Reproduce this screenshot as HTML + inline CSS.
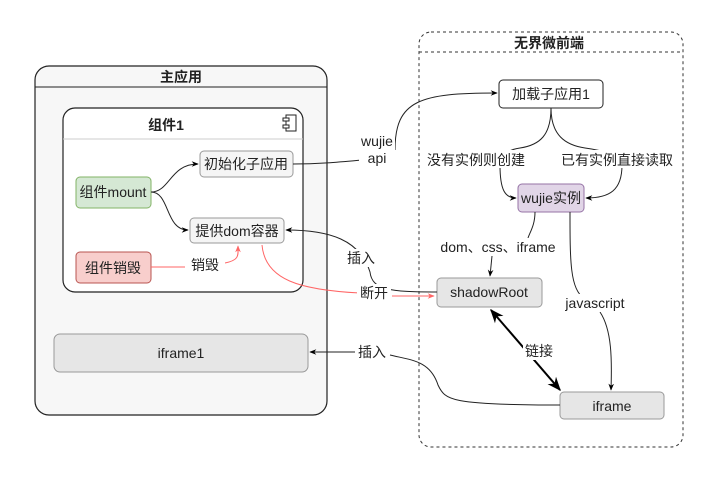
<!DOCTYPE html>
<html><head><meta charset="utf-8"><style>
html,body{margin:0;padding:0;background:#fff;width:720px;height:483px;overflow:hidden}
svg{display:block}
text{font-family:"Liberation Sans","Noto Sans CJK SC",sans-serif;font-size:14px;fill:#222}
.b{font-weight:bold}
</style></head><body>
<svg width="720" height="483" viewBox="0 0 720 483" xmlns="http://www.w3.org/2000/svg">
<defs>
<marker id="a" viewBox="0 0 10 10" refX="9" refY="5" markerWidth="7" markerHeight="7" orient="auto-start-reverse"><path d="M0,1 L10,5 L0,9 L3,5z" fill="#000"/></marker>
<marker id="r" viewBox="0 0 10 10" refX="9" refY="5" markerWidth="7" markerHeight="7" orient="auto"><path d="M0,1 L10,5 L0,9 L3,5z" fill="#f66"/></marker>
</defs>
<rect x="35" y="66" width="292" height="349" rx="14" fill="#f7f7f7" stroke="#222" stroke-width="1.2"/>
<path d="M35 87 H327" stroke="#222"/>
<text x="181" y="82" text-anchor="middle" class="b">主应用</text>
<rect x="63" y="108" width="240" height="184" rx="12" fill="#fff" stroke="#222" stroke-width="1.2"/>
<path d="M63 139 H303" stroke="#ccc"/>
<text x="166" y="130" text-anchor="middle" class="b">组件1</text>
<rect x="286" y="115" width="10" height="16" fill="#fff" stroke="#222"/>
<rect x="283" y="118" width="6" height="3" fill="#fff" stroke="#222"/>
<rect x="283" y="125" width="6" height="3" fill="#fff" stroke="#222"/>
<rect x="200" y="151" width="93" height="26" rx="4" fill="#f5f5f5" stroke="#999"/>
<text x="246" y="169" text-anchor="middle" fill="#333">初始化子应用</text>
<rect x="76" y="177" width="75" height="31" rx="4" fill="#d5e8d4" stroke="#82b366"/>
<text x="113" y="197" text-anchor="middle">组件mount</text>
<rect x="190" y="218" width="94" height="25" rx="4" fill="#f5f5f5" stroke="#999"/>
<text x="237" y="236" text-anchor="middle" fill="#333">提供dom容器</text>
<rect x="76" y="252" width="75" height="31" rx="4" fill="#f8cecc" stroke="#b85450"/>
<text x="113" y="273" text-anchor="middle">组件销毁</text>
<rect x="54" y="334" width="254" height="38" rx="6" fill="#e6e6e6" stroke="#999"/>
<text x="181" y="358" text-anchor="middle" fill="#333">iframe1</text>
<rect x="419" y="32" width="264" height="415" rx="12" fill="none" stroke="#333" stroke-dasharray="3 3"/>
<path d="M419 52 H683" stroke="#333" stroke-dasharray="3 3"/>
<text x="549" y="48" text-anchor="middle" class="b">无界微前端</text>
<rect x="499" y="80" width="104" height="28" rx="4" fill="#fff" stroke="#222"/>
<text x="551" y="99" text-anchor="middle">加载子应用1</text>
<rect x="518" y="184" width="66" height="28" rx="4" fill="#e1d5e7" stroke="#9673a6"/>
<text x="551" y="203" text-anchor="middle">wujie实例</text>
<rect x="437" y="278" width="105" height="29" rx="4" fill="#e6e6e6" stroke="#999"/>
<text x="489" y="297" text-anchor="middle" fill="#333">shadowRoot</text>
<rect x="560" y="392" width="104" height="27" rx="4" fill="#e6e6e6" stroke="#999"/>
<text x="612" y="411" text-anchor="middle" fill="#333">iframe</text>
<g fill="none" stroke="#222" stroke-width="1">
<path d="M151 192 C170 192,170 164,198 164" marker-end="url(#a)"/>
<path d="M151 192 C170 192,165 230,188 230" marker-end="url(#a)"/>
<path d="M293 164 C320 164,340 162,362 160"/>
<path d="M395 150 C395 100,420 93,497 93" marker-end="url(#a)"/>
<path d="M551 108 C551 135,540 145,520 148 C505 150,500 158,500 165 C500 190,505 198,516 198" marker-end="url(#a)"/>
<path d="M551 108 C551 135,565 145,585 148 C600 150,622 155,622 165 C622 190,610 198,586 198" marker-end="url(#a)"/>
<path d="M535 212 C535 225,530 232,528 238"/>
<path d="M492 256 L490 276" marker-end="url(#a)"/>
<path d="M570 212 C570 260,570 290,584 298"/>
<path d="M600 312 C612 330,612 360,611 390" marker-end="url(#a)"/>
<path d="M437 292 C390 292,372 290,370 272 C360 240,330 230,286 230" marker-end="url(#a)"/>
<path d="M560 405 C450 405,445 400,438 385 C430 360,410 360,390 355" />
<path d="M358 352 L310 352" marker-end="url(#a)"/>
</g>
<path d="M491 310 L560 390" stroke="#000" stroke-width="2" fill="none" marker-start="url(#a)" marker-end="url(#a)"/>
<g fill="none" stroke="#f66" stroke-width="1">
<path d="M151 267 L185 267"/>
<path d="M225 263 C240 260,238 255,238 246" marker-end="url(#r)"/>
<path d="M262 245 C265 280,300 290,360 293"/>
<path d="M392 296 L434 296" marker-end="url(#r)"/>
</g>
<g>
<rect x="359" y="132" width="36" height="34" fill="#fff"/>
<text x="377" y="146" text-anchor="middle">wujie</text>
<text x="377" y="163" text-anchor="middle">api</text>
<rect x="426" y="150" width="100" height="18" fill="#fff"/>
<text x="476" y="165" text-anchor="middle">没有实例则创建</text>
<rect x="558" y="150" width="118" height="18" fill="#fff"/>
<text x="617" y="165" text-anchor="middle">已有实例直接读取</text>
<rect x="440" y="238" width="116" height="18" fill="#fff"/>
<text x="498" y="252" text-anchor="middle">dom、css、iframe</text>
<rect x="564" y="294" width="62" height="18" fill="#fff"/>
<text x="595" y="308" text-anchor="middle">javascript</text>
<rect x="523" y="340" width="32" height="20" fill="#fff"/>
<text x="539" y="356" text-anchor="middle">链接</text>
<rect x="345" y="249" width="32" height="18" fill="#fff"/>
<text x="361" y="263" text-anchor="middle">插入</text>
<rect x="357" y="284" width="34" height="18" fill="#fff"/>
<text x="374" y="298" text-anchor="middle">断开</text>
<rect x="355" y="343" width="34" height="18" fill="#fff"/>
<text x="372" y="357" text-anchor="middle">插入</text>
<rect x="185" y="256" width="40" height="18" fill="#fff"/>
<text x="205" y="270" text-anchor="middle">销毁</text>
</g>
</svg>
</body></html>
